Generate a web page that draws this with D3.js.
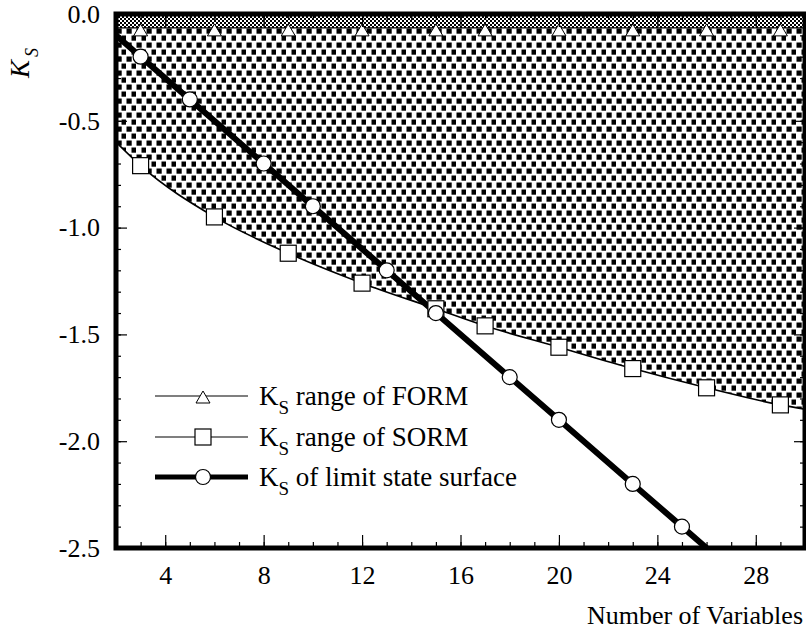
<!DOCTYPE html>
<html>
<head>
<meta charset="utf-8">
<script src="https://cdn.jsdelivr.net/npm/d3@7"></script>
<style>
  html, body { margin: 0; padding: 0; background: #fff; }
  svg { display: block; }
</style>
</head>
<body>
<svg id="chart" width="806" height="637"></svg>
<script>
// ---------------- data ----------------
const xDomain = [2, 30];
const yDomain = [-2.5, 0];
const xMajorTicks = [4, 8, 12, 16, 20, 24, 28];
const yMajorTicks = [0.0, -0.5, -1.0, -1.5, -2.0, -2.5];

const formX = [3, 6, 9, 12, 15, 17, 20, 23, 26, 29];
const formValues = [-0.065, -0.065, -0.065, -0.065, -0.065, -0.065, -0.065, -0.065, -0.065, -0.065];

const sormX = [3, 6, 9, 12, 15, 17, 20, 23, 26, 29];
const sormValues = [-0.71, -0.95, -1.12, -1.26, -1.38, -1.46, -1.56, -1.66, -1.75, -1.83];
const sormEdgeX = [2, 30];
const sormEdgeValues = [-0.60, -1.85];

const limitX = [3, 5, 8, 10, 13, 15, 18, 20, 23, 25];
const limitValues = [-0.2, -0.4, -0.7, -0.9, -1.2, -1.4, -1.7, -1.9, -2.2, -2.4];
const limitEdgeX = [2, 26];
const limitEdgeValues = [-0.10, -2.50];

const legendLabels = [" range of FORM", " range of SORM", " of limit state surface"];

// ---------------- layout ----------------
const svg = d3.select("#chart");
const L = 116, R = 805, T = 14, B = 548;
const font = "'Liberation Serif', 'Times New Roman', serif";

const x = d3.scaleLinear().domain(xDomain).range([L, R]);
const y = d3.scaleLinear().domain(yDomain).range([B, T]);

const defs = svg.append("defs");
defs.append("clipPath").attr("id", "plotClip")
  .append("rect").attr("x", L).attr("y", T).attr("width", R - L).attr("height", B - T);

// fine checker pattern (FORM band)
const pf = defs.append("pattern").attr("id", "fine")
  .attr("patternUnits", "userSpaceOnUse").attr("width", 4).attr("height", 4);
pf.append("rect").attr("width", 4).attr("height", 4).attr("fill", "#000");
pf.append("rect").attr("x", 0).attr("y", 0).attr("width", 2).attr("height", 2).attr("fill", "#fff");
pf.append("rect").attr("x", 2).attr("y", 2).attr("width", 2).attr("height", 2).attr("fill", "#fff");

// coarse staggered squares (SORM band)
const pc = defs.append("pattern").attr("id", "coarse")
  .attr("patternUnits", "userSpaceOnUse").attr("width", 10).attr("height", 14)
  .attr("x", L).attr("y", T);
pc.append("rect").attr("width", 10).attr("height", 14).attr("fill", "#fff");
pc.append("rect").attr("x", 0.5).attr("y", 0.5).attr("width", 5.2).attr("height", 5.2).attr("fill", "#000");
pc.append("rect").attr("x", 5.5).attr("y", 7.5).attr("width", 5.2).attr("height", 5.2).attr("fill", "#000");

const plot = svg.append("g").attr("clip-path", "url(#plotClip)");

// SORM curve points (with edge points)
const sormPts = d3.zip(sormX.concat(sormEdgeX), sormValues.concat(sormEdgeValues))
  .sort((a, b) => a[0] - b[0]);
const formAt = d3.scaleLinear().domain(formX).range(formValues).clamp(true);

// coarse band: between FORM line and SORM curve
plot.append("path")
  .datum(sormPts)
  .attr("fill", "url(#coarse)")
  .attr("d", d3.area()
    .x(d => x(d[0]))
    .y0(d => y(d[1]))
    .y1(d => y(formAt(d[0])))
    .curve(d3.curveMonotoneX));

// fine band: between 0 and FORM line
const formPts = d3.zip([xDomain[0]].concat(formX, [xDomain[1]]),
  [formAt(xDomain[0])].concat(formValues, [formAt(xDomain[1])]));
plot.append("path")
  .datum(formPts)
  .attr("fill", "url(#fine)")
  .attr("d", d3.area().x(d => x(d[0])).y0(d => y(d[1])).y1(y(yDomain[1])));
plot.append("path")
  .datum(formPts)
  .attr("fill", "none").attr("stroke", "#000").attr("stroke-width", 1.2)
  .attr("d", d3.line().x(d => x(d[0])).y(d => y(d[1])));

// SORM line
plot.append("path")
  .datum(sormPts)
  .attr("fill", "none").attr("stroke", "#000").attr("stroke-width", 1.6)
  .attr("d", d3.line().x(d => x(d[0])).y(d => y(d[1])).curve(d3.curveMonotoneX));

// limit state line
const limitPts = d3.zip(limitX.concat(limitEdgeX), limitValues.concat(limitEdgeValues))
  .sort((a, b) => a[0] - b[0]);
plot.append("path")
  .datum(limitPts)
  .attr("fill", "none").attr("stroke", "#000").attr("stroke-width", 6)
  .attr("d", d3.line().x(d => x(d[0])).y(d => y(d[1])));

// markers
const triPath = (cx, cy) => {
  const w = 14, h = 12;
  return `M${cx},${cy - h / 2}L${cx + w / 2},${cy + h / 2}L${cx - w / 2},${cy + h / 2}Z`;
};
plot.selectAll("path.tri").data(d3.zip(formX, formValues)).join("path")
  .attr("class", "tri")
  .attr("d", d => triPath(x(d[0]), y(d[1]) + 2))
  .attr("fill", "#fff").attr("stroke", "#000").attr("stroke-width", 1);

const sq = 16;
plot.selectAll("rect.sq").data(d3.zip(sormX, sormValues)).join("rect")
  .attr("class", "sq")
  .attr("x", d => x(d[0]) - sq / 2).attr("y", d => y(d[1]) - sq / 2)
  .attr("width", sq).attr("height", sq)
  .attr("fill", "#fff").attr("stroke", "#000").attr("stroke-width", 1.2);

plot.selectAll("circle.ci").data(d3.zip(limitX, limitValues)).join("circle")
  .attr("class", "ci")
  .attr("cx", d => x(d[0])).attr("cy", d => y(d[1])).attr("r", 7.5)
  .attr("fill", "#fff").attr("stroke", "#000").attr("stroke-width", 1.2);

// ---------------- axes ----------------
const xMinor = d3.range(xDomain[0], xDomain[1] + 1, 1);
const yMinor = d3.range(0, 26).map(i => -i / 10);

function styleAxis(g) {
  g.select(".domain").remove();
  g.selectAll("line").attr("stroke", "#000").attr("stroke-width", 1.2);
  g.selectAll("text").attr("font-family", font).attr("font-size", 26).attr("fill", "#000");
}

// bottom
svg.append("g").attr("transform", `translate(0,${B})`)
  .call(d3.axisBottom(x).tickValues(xMinor).tickSize(-6).tickFormat(""))
  .call(styleAxis);
svg.append("g").attr("transform", `translate(0,${B})`)
  .call(d3.axisBottom(x).tickValues(xMajorTicks).tickSize(-13).tickPadding(18).tickFormat(d3.format("d")))
  .call(styleAxis);
// top
svg.append("g").attr("transform", `translate(0,${T})`)
  .call(d3.axisTop(x).tickValues(xMinor).tickSize(-6).tickFormat(""))
  .call(styleAxis);
svg.append("g").attr("transform", `translate(0,${T})`)
  .call(d3.axisTop(x).tickValues(xMajorTicks).tickSize(-13).tickFormat(""))
  .call(styleAxis);
// left
svg.append("g").attr("transform", `translate(${L},0)`)
  .call(d3.axisLeft(y).tickValues(yMinor).tickSize(-5).tickFormat(""))
  .call(styleAxis);
svg.append("g").attr("transform", `translate(${L},0)`)
  .call(d3.axisLeft(y).tickValues(yMajorTicks).tickSize(-11).tickPadding(16).tickFormat(d3.format(".1f")))
  .call(styleAxis);
// right
svg.append("g").attr("transform", `translate(${R},0)`)
  .call(d3.axisRight(y).tickValues(yMinor).tickSize(-5).tickFormat(""))
  .call(styleAxis);
svg.append("g").attr("transform", `translate(${R},0)`)
  .call(d3.axisRight(y).tickValues(yMajorTicks).tickSize(-11).tickFormat(""))
  .call(styleAxis);

// reference uses a plain hyphen for negatives
svg.selectAll("text").each(function () {
  const t = d3.select(this).text();
  d3.select(this).text(t.replace("\u2212", "-"));
});

// frame
svg.append("rect")
  .attr("x", L).attr("y", T).attr("width", R - L).attr("height", B - T)
  .attr("fill", "none").attr("stroke", "#000").attr("stroke-width", 5);

// axis titles
svg.append("text")
  .attr("x", R - 2).attr("y", 624)
  .attr("text-anchor", "end")
  .attr("font-family", font).attr("font-size", 26)
  .text("Number of Variables");

const yl = svg.append("text")
  .attr("transform", "translate(29,78) rotate(-90)")
  .attr("font-family", font).attr("font-size", 27).attr("font-style", "italic");
yl.append("tspan").text("K");
yl.append("tspan").attr("dy", 9).attr("dx", 3).attr("font-size", 18).text("S");

// ---------------- legend ----------------
const legendRowsY = [396, 437, 477];
const lx0 = 155, lx1 = 248, lsym = 203, ltx = 259;
const legendWidths = [1.2, 1.2, 5];

legendLabels.forEach((lab, i) => {
  const ly = legendRowsY[i];
  svg.append("line").attr("x1", lx0).attr("x2", lx1).attr("y1", ly).attr("y2", ly)
    .attr("stroke", "#000").attr("stroke-width", legendWidths[i]);
  if (i === 0) {
    svg.append("path").attr("d", triPath(lsym, ly + 1)).attr("fill", "#fff")
      .attr("stroke", "#000").attr("stroke-width", 1);
  } else if (i === 1) {
    svg.append("rect").attr("x", lsym - sq / 2).attr("y", ly - sq / 2).attr("width", sq).attr("height", sq)
      .attr("fill", "#fff").attr("stroke", "#000").attr("stroke-width", 1.2);
  } else {
    svg.append("circle").attr("cx", lsym).attr("cy", ly).attr("r", 7.5)
      .attr("fill", "#fff").attr("stroke", "#000").attr("stroke-width", 1.2);
  }
  const t = svg.append("text").attr("x", ltx).attr("y", ly + 9)
    .attr("font-family", font).attr("font-size", 27);
  t.append("tspan").text("K");
  t.append("tspan").attr("dy", 9).attr("font-size", 19).text("S");
  t.append("tspan").attr("dy", -9).text(lab);
});
</script>
</body>
</html>
